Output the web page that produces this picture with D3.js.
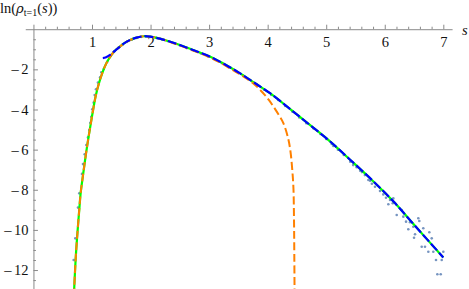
<html>
<head>
<style>
  body { margin: 0; background: white; }
  svg { display: block; }
</style>
<script src="https://cdn.jsdelivr.net/npm/d3@7"></script>
</head>
<body>
<svg id="chart"></svg>
<script>
// tick labels
let xTicks = [1, 2, 3, 4, 5, 6, 7];
let yTicks = [-2, -4, -6, -8, -10, -12];

// green solid curve [s, ln rho]
let exactCurve = [
  [0.69, -13.3], [0.72, -11.5], [0.745, -10.4], [0.785, -8.9], [0.805, -8.2], [0.85, -7.2],
  [0.895, -6.25], [0.945, -5.3], [0.985, -4.6], [1.02, -4.0], [1.065, -3.3], [1.12, -2.68],
  [1.18, -2.15], [1.245, -1.70], [1.33, -1.29], [1.40, -1.05], [1.48, -0.86], [1.56, -0.68],
  [1.65, -0.54], [1.76, -0.42], [1.88, -0.35], [1.99, -0.37], [2.16, -0.47], [2.3, -0.59],
  [2.5, -0.79], [2.75, -1.06], [3.02, -1.37], [3.28, -1.77], [3.53, -2.20], [3.78, -2.68],
  [4.04, -3.19], [4.38, -3.97], [4.72, -4.77], [5.05, -5.55], [5.38, -6.43], [5.78, -7.51],
  [6.15, -8.59], [6.52, -9.81], [7.0, -11.37]
];

// blue dashed curve (large-s form)
let tailCurve = [
  [1.185, -1.44], [1.23, -1.41], [1.28, -1.33], [1.33, -1.23], [1.40, -1.05], [1.48, -0.86],
  [1.56, -0.68], [1.65, -0.54], [1.76, -0.42], [1.88, -0.35], [1.99, -0.37], [2.16, -0.47],
  [2.3, -0.59], [2.5, -0.79], [2.75, -1.06], [3.02, -1.37], [3.28, -1.77], [3.53, -2.20],
  [3.78, -2.68], [4.04, -3.19], [4.38, -3.97], [4.72, -4.77], [5.05, -5.55], [5.38, -6.43],
  [5.78, -7.51], [6.15, -8.59], [6.52, -9.81], [7.0, -11.37]
];

// orange dashed curve (small-s form)
let seriesCurve = [
  [0.69, -13.3], [0.72, -11.5], [0.745, -10.4], [0.785, -8.9], [0.805, -8.2], [0.85, -7.2],
  [0.895, -6.25], [0.945, -5.3], [0.985, -4.6], [1.02, -4.0], [1.065, -3.3], [1.12, -2.68],
  [1.18, -2.15], [1.245, -1.70], [1.33, -1.29], [1.40, -1.05], [1.48, -0.86], [1.56, -0.68],
  [1.65, -0.54], [1.76, -0.42], [1.88, -0.35], [1.99, -0.37], [2.16, -0.47], [2.3, -0.60],
  [2.5, -0.81], [2.75, -1.09], [3.02, -1.41], [3.28, -1.82], [3.53, -2.26], [3.70, -2.58],
  [3.82, -2.87], [3.95, -3.27], [4.02, -3.52], [4.10, -3.86], [4.20, -4.32], [4.27, -4.69],
  [4.35, -5.44], [4.39, -6.1], [4.42, -7.0], [4.44, -7.9], [4.45, -9.5], [4.455, -11.2], [4.46, -13.3]
];

// simulation points
let samples = [
  [0.687, -11.50], [0.715, -10.42], [0.761, -8.89], [0.783, -8.18], [0.829, -7.21], [0.846, -6.72],
  [0.875, -6.23], [0.903, -5.77], [0.932, -5.39], [0.954, -5.02], [0.971, -4.66], [0.988, -4.36],
  [1.005, -3.99], [1.029, -3.66], [1.046, -3.28], [1.068, -2.99], [1.102, -2.66], [1.137, -2.40],
  [1.159, -2.15], [1.20, -1.98], [1.26, -1.62], [1.32, -1.33], [1.38, -1.10], [1.45, -0.93],
  [1.52, -0.78], [1.60, -0.63], [1.68, -0.52], [1.76, -0.44], [1.84, -0.38], [1.92, -0.36],
  [2.00, -0.38], [2.10, -0.43], [2.20, -0.51], [2.30, -0.60], [2.40, -0.69], [2.50, -0.81],
  [2.62, -0.94], [2.74, -1.07], [2.86, -1.21], [2.98, -1.35], [3.10, -1.51], [3.22, -1.69],
  [3.34, -1.88], [3.46, -2.09], [3.58, -2.31], [3.70, -2.53], [3.82, -2.77], [3.94, -3.01],
  [4.06, -3.27], [4.18, -3.53], [4.30, -3.82], [4.42, -4.10], [4.54, -4.40], [4.66, -4.68],
  [4.78, -4.94], [4.90, -5.22], [5.00, -5.47], [5.094, -5.72], [5.122, -5.82], [5.20, -6.00],
  [5.30, -6.27], [5.41, -6.60], [5.46, -6.77], [5.52, -6.88], [5.58, -7.05], [5.61, -7.12],
  [5.66, -7.27], [5.72, -7.51], [5.75, -7.55], [5.78, -7.70], [5.833, -7.85], [5.919, -8.06],
  [5.975, -8.23], [6.021, -8.40], [6.061, -8.72], [6.090, -8.51], [6.136, -8.67], [6.146, -8.43],
  [6.204, -9.26], [6.289, -9.01], [6.317, -9.34], [6.363, -9.59], [6.402, -9.97], [6.431, -9.62],
  [6.488, -9.84], [6.500, -10.39], [6.517, -10.22], [6.573, -9.42], [6.590, -9.56], [6.631, -10.84],
  [6.658, -9.92], [6.687, -10.84], [6.744, -11.09], [6.761, -10.12], [6.802, -10.42], [6.829, -11.09],
  [6.875, -11.50], [6.898, -12.21], [6.956, -12.21], [6.973, -11.50], [7.000, -11.09]
];

let width = 469;
let height = 289;
let serif = "Liberation Serif";

let svg = d3.select("#chart")
  .attr("width", width)
  .attr("height", height);

let x = d3.scaleLinear().domain([-0.14, 7.15]).range([25.25, 452.1]);
let y = d3.scaleLinear().domain([0.25, -12.95]).range([24.2, 289.1]);

// x axis (ticks up, labels below)
let xMinor = d3.range(0, 7.01, 0.2).map(d => +d.toFixed(1)).filter(d => !xTicks.includes(d) && d !== 0);
let gxMinor = svg.append("g")
  .attr("transform", `translate(0,${y(0)})`)
  .call(d3.axisBottom(x).tickValues(xMinor).tickSize(-2.5).tickFormat(""));
gxMinor.select(".domain").remove();

let gx = svg.append("g")
  .attr("transform", `translate(0,${y(0)})`)
  .call(d3.axisBottom(x).tickValues(xTicks).tickSize(-4.5).tickSizeOuter(0).tickPadding(8).tickFormat(d3.format("d")));

// y axis (ticks right, labels left)
let yMinor = d3.range(-0.5, -12.9, -0.5).filter(d => !yTicks.includes(d));
let gyMinor = svg.append("g")
  .attr("transform", `translate(${x(0)},0)`)
  .call(d3.axisLeft(y).tickValues(yMinor).tickSize(-2.5).tickFormat(""));
gyMinor.select(".domain").remove();

let gy = svg.append("g")
  .attr("transform", `translate(${x(0)},0)`)
  .call(d3.axisLeft(y).tickValues(yTicks).tickSize(-4.5).tickSizeOuter(0).tickPadding(5));

// minus sign in its own tspan so the digits keep the serif face
gy.selectAll(".tick text").each(function(d) {
  let t = d3.select(this).text(null);
  t.append("tspan").text("\u2013");
  t.append("tspan").attr("dx", 2.5).text(Math.abs(d));
});

svg.selectAll("g").attr("font-family", serif).attr("font-size", 14.5);
svg.selectAll(".domain, .tick line").attr("stroke", "#8a8a8a").attr("stroke-width", 1);
svg.selectAll(".tick text").attr("fill", "#111");

// curves
let plot = svg.append("g");
let line = d3.line().x(d => x(d[0])).y(d => y(d[1])).curve(d3.curveCatmullRom.alpha(0.5));

plot.selectAll("circle").data(samples)
  .enter().append("circle")
  .attr("cx", d => x(d[0]))
  .attr("cy", d => y(d[1]))
  .attr("r", 1.3)
  .attr("fill", "#5e81b5")
  .attr("opacity", 0.85);

plot.append("path").attr("d", line(exactCurve))
  .attr("fill", "none").attr("stroke", "#00ff00").attr("stroke-width", 2.2);

plot.append("path").attr("d", line(seriesCurve))
  .attr("fill", "none").attr("stroke", "#ff8000").attr("stroke-width", 2)
  .attr("stroke-dasharray", "8,3.5");

plot.append("path").attr("d", line(tailCurve))
  .attr("fill", "none").attr("stroke", "#0000ff").attr("stroke-width", 2.2)
  .attr("stroke-dasharray", "9,3");

// axis labels
let ylab = svg.append("text")
  .attr("x", 0).attr("y", 13)
  .attr("font-family", serif)
  .attr("font-size", 14.5)
  .attr("fill", "#111");
ylab.append("tspan").text("ln(");
ylab.append("tspan").attr("font-family", "DejaVu Serif").attr("font-size", 13).attr("font-style", "italic").text("\u03c1");
ylab.append("tspan").attr("dy", 3).attr("font-size", 10).text("t=1");
ylab.append("tspan").attr("dy", -3).text("(");
ylab.append("tspan").attr("font-style", "italic").text("s");
ylab.append("tspan").text("))");

svg.append("text")
  .attr("x", 462).attr("y", 34.5)
  .attr("font-family", serif)
  .attr("font-size", 14.5)
  .attr("font-style", "italic")
  .attr("fill", "#111")
  .text("s");
</script>
</body>
</html>
